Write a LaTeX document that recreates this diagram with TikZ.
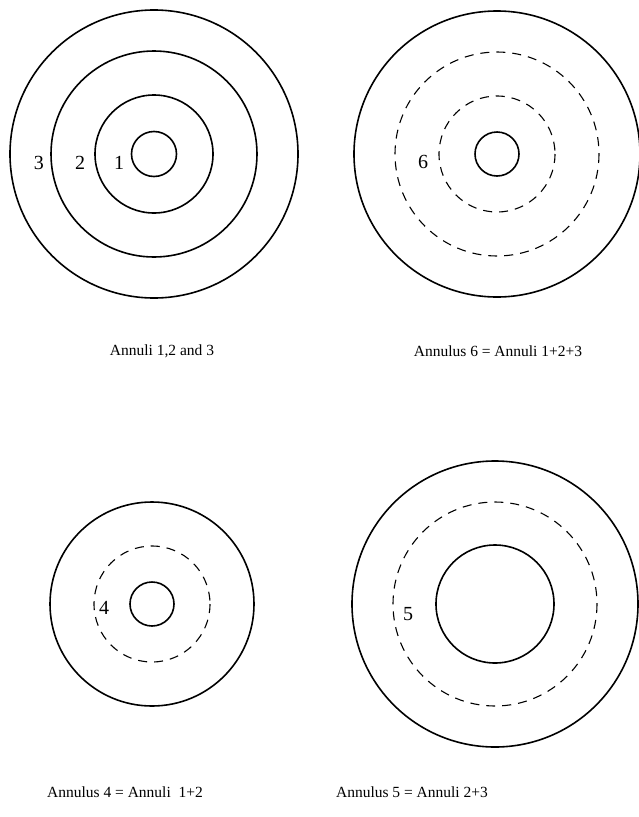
\documentclass[tikz,border=0pt]{standalone}
\usepackage{fontspec}
\setmainfont{Liberation Serif}
\begin{document}
\begin{tikzpicture}[x=1pt,y=-1pt,
  ring/.style={line width=1.6pt},
  dring/.style={line width=1.1pt,dash pattern=on 9pt off 7pt},
  lbl/.style={font=\fontsize{20}{22}\selectfont,inner sep=0pt},
  captext/.style={font=\fontsize{15.5}{18}\selectfont,inner sep=0pt}]
\useasboundingbox (0,0) rectangle (638,817);
\coordinate (A) at (154,154);
\coordinate (B) at (497,154);
\coordinate (C) at (152,604);
\coordinate (D) at (495,604);
% top left
\draw[ring] (A) circle (144) (A) circle (103) (A) circle (59) (A) circle (22.5);
\node[lbl] (l3) at (39,163) {3};
\node[lbl] (l2) at (80,163) {2};
\node[lbl] (l1) at (119,163) {1};
\node[captext] (capA) at (162,351) {Annuli 1,2 and 3};
% top right
\draw[ring] (B) circle (143) (B) circle (22);
\draw[dring] (B) circle (102) (B) circle (58);
\node[lbl] (l6) at (423,162) {6};
\node[captext] (capB) at (498,351) {Annulus 6 = Annuli 1+2+3};
% bottom left
\draw[ring] (C) circle (102) (C) circle (22);
\draw[dring] (C) circle (58);
\node[lbl] (l4) at (104,608) {4};
\node[captext] (capC) at (125,792) {Annulus 4 = Annuli\ \ 1+2};
% bottom right
\draw[ring] (D) circle (143) (D) circle (59);
\draw[dring] (D) circle (102);
\node[lbl] (l5) at (408,614) {5};
\node[captext] (capD) at (412,792) {Annulus 5 = Annuli 2+3};
\end{tikzpicture}
\end{document}
